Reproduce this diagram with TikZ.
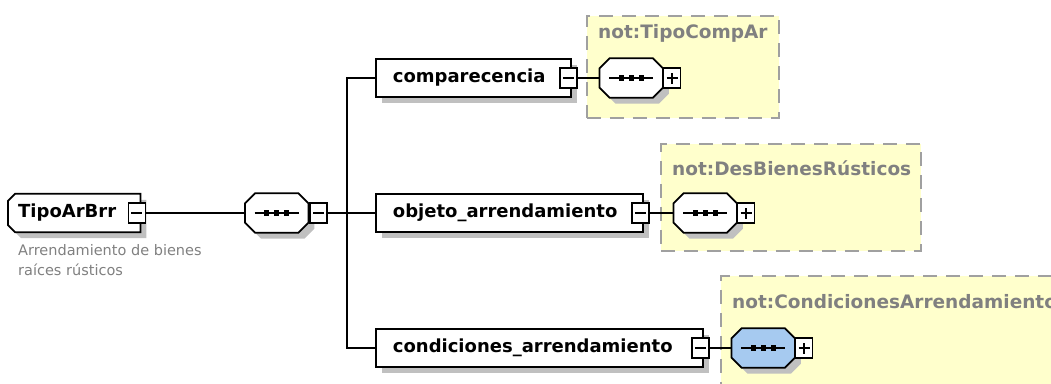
\documentclass[tikz,border=0pt]{standalone}
\usepackage{fontspec}
\setmainfont{DejaVu Sans}
\usetikzlibrary{positioning, shadows}

\definecolor{typefill}{RGB}{255,255,204}
\definecolor{typeline}{RGB}{160,160,160}
\definecolor{seqblue}{RGB}{166,202,240}
\definecolor{shadegray}{RGB}{192,192,192}
\definecolor{docgray}{RGB}{128,128,128}

\pgfdeclarelayer{types}
\pgfdeclarelayer{shapes}
\pgfsetlayers{types,shapes,main}

% outline of a box with cut corners: node, left cut, right cut, offset
\newcommand{\cutpath}[4]{%
  ([xshift=#2+#4, yshift=-#4]#1.north west) -- ([xshift=-#3+#4, yshift=-#4]#1.north east)
  -- ([xshift=#4, yshift=-#3-#4]#1.north east) -- ([xshift=#4, yshift=#3-#4]#1.south east)
  -- ([xshift=-#3+#4, yshift=-#4]#1.south east) -- ([xshift=#2+#4, yshift=-#4]#1.south west)
  -- ([xshift=#4, yshift=#2-#4]#1.south west) -- ([xshift=#4, yshift=-#2-#4]#1.north west)
  -- cycle}
\newcommand{\cutshape}[4]{%
  \begin{pgfonlayer}{shapes}
    \fill[shadegray] \cutpath{#1}{#2}{#3}{6pt};
    \draw[line width=1.8pt, fill=#4] \cutpath{#1}{#2}{#3}{0pt};
  \end{pgfonlayer}
}
\newcommand{\seqdots}[1]{%
  \draw[line width=1.8pt] ([xshift=-22pt]#1.center) -- ([xshift=22pt]#1.center);
  \foreach \dx in {-10,0,10}
    \fill ([xshift=\dx pt]#1.center) +(-2.7pt,-2.7pt) rectangle +(2.7pt,2.7pt);
}
\newcommand{\signminus}[1]{%
  \draw[line width=1.4pt] ([xshift=-5.5pt]#1.center) -- ([xshift=5.5pt]#1.center);
}
\newcommand{\signplus}[1]{%
  \signminus{#1}
  \draw[line width=1.4pt] ([yshift=-5.5pt]#1.center) -- ([yshift=5.5pt]#1.center);
}

\begin{document}
\begin{tikzpicture}[
  x=1pt, y=-1pt,
  node distance=22pt,
  elem/.style={rectangle, draw, fill=white, line width=1.8pt, minimum height=38pt,
    inner xsep=17pt, inner ysep=0pt, anchor=west, align=left,
    drop shadow={shadow xshift=6pt, shadow yshift=-6pt, opacity=1, fill=shadegray},
    font=\bfseries\fontsize{18}{21}\selectfont},
  rootbox/.style={rectangle, minimum height=38pt, inner xsep=10pt, inner ysep=0pt,
    text width=112pt, align=left, anchor=west,
    font=\bfseries\fontsize{18}{21}\selectfont},
  seqbox/.style={rectangle, minimum width=63pt, minimum height=39pt, inner sep=0pt,
    anchor=west},
  togg/.style={rectangle, draw, fill=white, line width=1.4pt, minimum width=17pt,
    minimum height=20pt, inner sep=0pt},
  typebox/.style={rectangle, draw=typeline, fill=typefill, line width=1.8pt,
    dash pattern=on 14pt off 9pt, anchor=north west, inner sep=0pt},
  typetitle/.style={anchor=west, inner sep=0pt, text=docgray,
    font=\bfseries\fontsize{18.5}{22}\selectfont},
  doc/.style={anchor=north west, inner sep=0pt, align=left, text=docgray,
    font=\fontsize{14.5}{20}\selectfont},
  conn/.style={line width=1.5pt},
]
\useasboundingbox (0,0) rectangle (1051,383);
\clip (0,0) rectangle (1051,383);

\begin{pgfonlayer}{types}
\node[typebox, minimum width=192pt, minimum height=102pt] (compt) at (586,15) {};
\node[typebox, minimum width=260pt, minimum height=107pt] (objt) at (660,143) {};
\node[typebox, minimum width=360pt, minimum height=140pt] (condt) at (720,275) {};
\end{pgfonlayer}
\node[typetitle] (comptitle) at (598,33) {not:TipoCompAr};
\node[typetitle] (objtitle) at (672,168) {not:DesBienesRústicos};
\node[typetitle] (condtitle) at (732,302) {not:CondicionesArrendamiento};

\node[rootbox] (root) at (8,213) {TipoArBrr};
\cutshape{root}{7pt}{0pt}{white}
\node[togg] (rootm) at ([xshift=-3.5pt]root.east) {};
\signminus{rootm}
\node[doc] (rootdoc) at (18,244) {Arrendamiento de bienes\\raíces rústicos};

\node[seqbox] (seq) at (245,213) {};
\cutshape{seq}{10pt}{10pt}{white}
\seqdots{seq}
\node[togg, right=1pt of seq] (seqm) {};
\signminus{seqm}
\coordinate (bus) at (347,213);

\node[elem, text width=161pt] (comp) at (375,78) {comparecencia};
\node[togg] (compm) at ([xshift=-3.5pt]comp.east) {};
\signminus{compm}
\node[seqbox, right=of compm] (compseq) {};
\cutshape{compseq}{10pt}{10pt}{white}
\seqdots{compseq}
\node[togg, right=0pt of compseq] (compseqp) {};
\signplus{compseqp}

\node[elem, text width=233pt] (obj) at (375,213) {objeto\_arrendamiento};
\node[togg] (objm) at ([xshift=-3.5pt]obj.east) {};
\signminus{objm}
\node[seqbox, right=24pt of objm] (objseq) {};
\cutshape{objseq}{10pt}{10pt}{white}
\seqdots{objseq}
\node[togg, right=0pt of objseq] (objseqp) {};
\signplus{objseqp}

\node[elem, text width=293pt] (cond) at (375,348) {condiciones\_arrendamiento};
\node[togg] (condm) at ([xshift=-3.5pt]cond.east) {};
\signminus{condm}
\node[seqbox, right=of condm] (condseq) {};
\cutshape{condseq}{10pt}{10pt}{seqblue}
\seqdots{condseq}
\node[togg, right=0pt of condseq] (condseqp) {};
\signplus{condseqp}

\draw[conn] (rootm) -- (seq);
\draw[conn] (seqm) -- (bus);
\draw[conn] (bus) |- (comp.west);
\draw[conn] (bus) -- (obj.west);
\draw[conn] (bus) |- (cond.west);
\draw[conn] (compm) -- (compseq);
\draw[conn] (objm) -- (objseq);
\draw[conn] (condm) -- (condseq);
\end{tikzpicture}
\end{document}
